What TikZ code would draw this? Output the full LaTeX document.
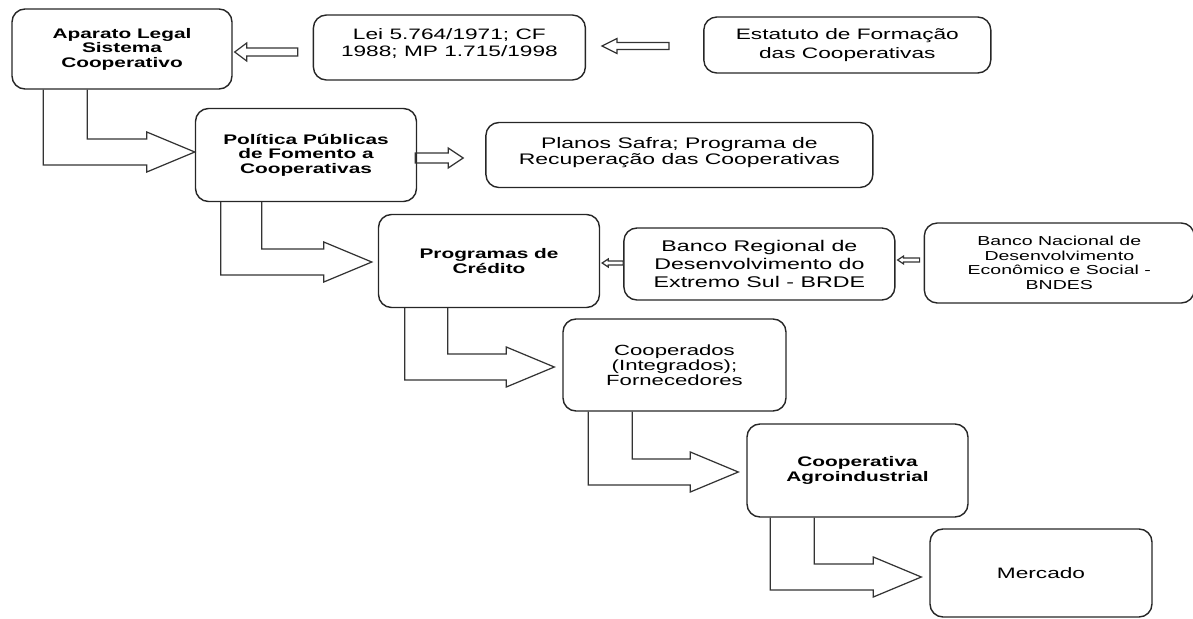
\documentclass[tikz,border=0pt]{standalone}
\usepackage{fontspec}
\setmainfont{Liberation Sans}[FakeStretch=1.5]
\usetikzlibrary{positioning,calc}

\tikzset{
  box/.style={draw=black!85, line width=0.8pt, rounded corners=0.26cm, align=center, inner sep=0pt},
  head/.style={box, minimum width=4.42cm, minimum height=1.86cm, font=\bfseries\fontsize{7.9}{8.3}\selectfont},
  note/.style={box, font=\fontsize{8.6}{9.6}\selectfont},
  flow/.style={draw=black!80, line width=0.7pt, line join=miter},
}

% bent block arrow: source node, tip point, outer and inner offset
\newcommand{\bigflow}[4]{%
  \draw[flow] let \p1=(#1.south west), \p2=#2 in
    (\x1+#3,\y1) -- (\x1+#3,\y2-0.26cm) -- (\x2-0.96cm,\y2-0.26cm) -- (\x2-0.96cm,\y2-0.4cm)
    -- (\x2,\y2) -- (\x2-0.96cm,\y2+0.4cm) -- (\x2-0.96cm,\y2+0.26cm) -- (\x1+#4,\y2+0.26cm) -- (\x1+#4,\y1);}

% straight hollow arrow: tail, tip, shaft half, head half, head length
\newcommand{\smallflow}[5]{%
  \draw[flow] let \p1=#1, \p2=#2, \n1={sign(\x2-\x1)} in
    (\x1,\y1+#3) -- (\x2-\n1*#5,\y1+#3) -- (\x2-\n1*#5,\y1+#4) -- (\x2,\y1)
    -- (\x2-\n1*#5,\y1-#4) -- (\x2-\n1*#5,\y1-#3) -- (\x1,\y1-#3) -- cycle;}

\begin{document}
\begin{tikzpicture}
  \useasboundingbox (0,0) rectangle (23.86,-12.38);

  % Define nodes
  \node[head, minimum width=4.4cm, minimum height=1.6cm] (apar) at (2.44,-0.98) {Aparato Legal\\Sistema\\Cooperativo};
  \node[note, minimum width=5.44cm, minimum height=1.3cm, right=1.6cm of apar, yshift=0.03cm] (lei) {Lei 5.764/1971; CF\\1988; MP 1.715/1998\\[-4pt]\mbox{}};
  \node[note, minimum width=5.74cm, minimum height=1.12cm, right=2.34cm of lei, yshift=0.05cm, font=\fontsize{8.6}{10.4}\selectfont] (estat) {Estatuto de Formação\\das Cooperativas};
  \node[head] (poli) at (6.12,-3.10) {Política Públicas\\de Fomento a\\Cooperativas};
  \node[note, minimum width=7.74cm, minimum height=1.3cm, right=1.36cm of poli, font=\fontsize{8.7}{8.8}\selectfont] (planos) {Planos Safra; Programa de\\Recuperação das Cooperativas\\[-4pt]\mbox{}};
  \node[head] (prog) at (9.78,-5.22) {Programas de\\Crédito};
  \node[note, minimum width=5.42cm, minimum height=1.44cm, right=0.46cm of prog, yshift=-0.06cm, font=\fontsize{8.8}{10.5}\selectfont] (brde) {Banco Regional de\\Desenvolvimento do\\Extremo Sul - BRDE};
  \node[note, minimum width=5.4cm, minimum height=1.6cm, right=0.56cm of brde, yshift=0.02cm, font=\fontsize{7.4}{8.3}\selectfont] (bndes) {Banco Nacional de\\Desenvolvimento\\Econômico e Social -\\BNDES};
  \node[note, minimum width=4.46cm, minimum height=1.84cm, font=\fontsize{8.4}{8.5}\selectfont] (coop) at (13.49,-7.30) {Cooperados\\(Integrados);\\Fornecedores};
  \node[head] (agro) at (17.15,-9.41) {Cooperativa\\Agroindustrial};
  \node[note, minimum width=4.44cm, minimum height=1.76cm] (merc) at (20.82,-11.46) {Mercado};

  % Connect the nodes
  \bigflow{apar}{($(poli.west)+(0,0.06)$)}{0.64cm}{1.52cm}
  \bigflow{poli}{($(prog.west)+(-0.12,-0.02)$)}{0.52cm}{1.34cm}
  \bigflow{prog}{($(coop.west)+(-0.16,-0.04)$)}{0.54cm}{1.40cm}
  \bigflow{coop}{($(agro.west)+(-0.16,-0.03)$)}{0.52cm}{1.40cm}
  \bigflow{agro}{($(merc.west)+(-0.16,-0.08)$)}{0.48cm}{1.36cm}

  \smallflow{($(lei.west)+(-0.3,-0.09)$)}{($(apar.east)+(0.04,0)$)}{0.08cm}{0.18cm}{0.24cm}
  \smallflow{($(estat.west)+(-0.68,-0.02)$)}{($(lei.east)+(0.32,0)$)}{0.07cm}{0.15cm}{0.3cm}
  \smallflow{($(poli.east)+(-0.04,-0.06)$)}{($(planos.west)+(-0.44,0)$)}{0.1cm}{0.2cm}{0.3cm}
  \smallflow{($(brde.west)+(0,0.02)$)}{($(prog.east)+(0.04,0)$)}{0.04cm}{0.08cm}{0.12cm}
  \smallflow{($(bndes.west)+(-0.08,0.06)$)}{($(brde.east)+(0.04,0)$)}{0.04cm}{0.08cm}{0.12cm}

\end{tikzpicture}
\end{document}
